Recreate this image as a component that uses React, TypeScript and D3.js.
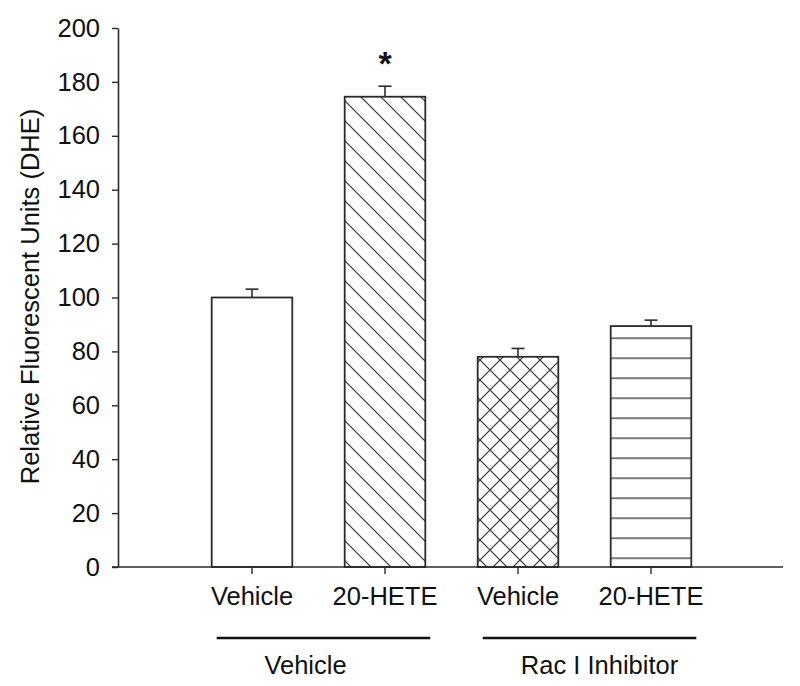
import React, { useEffect, useRef } from "react";
import * as d3 from "d3";

// values
const groups = ["veh-veh", "veh-hete", "rac-veh", "rac-hete"];
const xLabels = ["Vehicle", "20-HETE", "Vehicle", "20-HETE"];
const means = [100, 174.5, 78, 89.4];
const errors = [3.1, 3.9, 3.1, 2.2];
const fills = ["white", "url(#diag)", "url(#cross)", "url(#horiz)"];
const yTicks = [0, 20, 40, 60, 80, 100, 120, 140, 160, 180, 200];
const groupNames = ["Vehicle", "Rac I Inhibitor"];
const groupMembers = [
  ["veh-veh", "veh-hete"],
  ["rac-veh", "rac-hete"],
];
const significant = ["veh-hete"];

const FONT = "'Liberation Sans', Arial, Helvetica, sans-serif";
const INK = "#2b2b2b";
const FS = 25.5;

const App = () => {
  const ref = useRef<SVGSVGElement>(null);

  useEffect(() => {
    const width = 800;
    const height = 686;
    const svg = d3.select(ref.current).attr("width", width).attr("height", height);
    svg.selectAll("*").remove();

    const y = d3.scaleLinear().domain([0, 200]).range([567, 28]);
    const x = d3
      .scaleBand()
      .domain(groups)
      .range([185.5, 717.5])
      .paddingInner(0.394)
      .paddingOuter(0.197);

    // hatch patterns
    const defs = svg.append("defs");
    const mk = (id, px, py, d, sw) => {
      const p = defs
        .append("pattern")
        .attr("id", id)
        .attr("patternUnits", "userSpaceOnUse")
        .attr("x", px)
        .attr("y", py)
        .attr("width", 20)
        .attr("height", 20);
      p.append("rect").attr("width", 20).attr("height", 20).attr("fill", "white");
      p.append("path")
        .attr("d", d)
        .attr("stroke", "#333")
        .attr("stroke-width", sw)
        .attr("fill", "none");
    };
    const back = "M-5,-5L25,25M-5,15L5,25M15,-5L25,5";
    const fwd = "M-5,25L25,-5M-5,5L5,-5M15,25L25,15";
    mk("diag", 4, 0, back, 1.2);
    mk("cross", 0, 0, back + fwd, 1.2);
    mk("horiz", 0, 17.5, "M0,0.5L20,0.5", 1.6);

    // y axis
    const yAxis = svg
      .append("g")
      .attr("transform", "translate(118,0)")
      .call(d3.axisLeft(y).tickValues(yTicks).tickSize(6).tickSizeOuter(0).tickPadding(12));
    yAxis.select(".domain").attr("stroke", INK).attr("stroke-width", 1.6);
    yAxis.selectAll(".tick line").attr("stroke", INK).attr("stroke-width", 1.4);
    yAxis
      .selectAll(".tick text")
      .attr("font-family", FONT)
      .attr("font-size", FS)
      .attr("fill", "#111");

    // bars
    svg
      .selectAll("rect.bar")
      .data(groups)
      .enter()
      .append("rect")
      .attr("class", "bar")
      .attr("x", (d) => x(d))
      .attr("width", x.bandwidth())
      .attr("y", (d, i) => y(means[i]))
      .attr("height", (d, i) => y(0) - y(means[i]))
      .attr("fill", (d, i) => fills[i])
      .attr("stroke", INK)
      .attr("stroke-width", 1.8);

    // error bars (upper only)
    groups.forEach((g, i) => {
      const cx = x(g) + x.bandwidth() / 2;
      const top = y(means[i] + errors[i]);
      svg
        .append("line")
        .attr("x1", cx)
        .attr("x2", cx)
        .attr("y1", y(means[i]))
        .attr("y2", top)
        .attr("stroke", INK)
        .attr("stroke-width", 1.6);
      svg
        .append("line")
        .attr("x1", cx - 6.5)
        .attr("x2", cx + 6.5)
        .attr("y1", top)
        .attr("y2", top)
        .attr("stroke", INK)
        .attr("stroke-width", 1.6);
    });

    // significance star
    significant.forEach((g) => {
      const i = groups.indexOf(g);
      svg
        .append("text")
        .attr("x", x(g) + x.bandwidth() / 2)
        .attr("y", y(means[i] + errors[i]) - 11)
        .attr("text-anchor", "middle")
        .attr("font-family", FONT)
        .attr("font-size", 34)
        .attr("font-weight", "bold")
        .attr("fill", "#111")
        .text("*");
    });

    // x axis
    svg
      .append("line")
      .attr("x1", 112)
      .attr("x2", 783)
      .attr("y1", y(0))
      .attr("y2", y(0))
      .attr("stroke", INK)
      .attr("stroke-width", 1.6);
    const xAxis = svg
      .append("g")
      .attr("transform", `translate(0,${y(0)})`)
      .call(d3.axisBottom(x).tickSize(7).tickSizeOuter(0).tickPadding(13).tickFormat((d, i) => xLabels[i]));
    xAxis.select(".domain").remove();
    xAxis.selectAll(".tick line").attr("stroke", INK).attr("stroke-width", 1.4);
    xAxis
      .selectAll(".tick text")
      .attr("font-family", FONT)
      .attr("font-size", FS)
      .attr("fill", "#111");

    // group brackets
    groupNames.forEach((name, k) => {
      const mem = groupMembers[k];
      const a = x(mem[0]);
      const b = x(mem[mem.length - 1]) + x.bandwidth();
      svg
        .append("line")
        .attr("x1", a + 5)
        .attr("x2", b + 5)
        .attr("y1", 638)
        .attr("y2", 638)
        .attr("stroke", "#111")
        .attr("stroke-width", 2.6);
      svg
        .append("text")
        .attr("x", k === 0 ? (a + b) / 2 - 13 : (a + b) / 2 + 15)
        .attr("y", 674)
        .attr("text-anchor", "middle")
        .attr("font-family", FONT)
        .attr("font-size", FS)
        .attr("fill", "#111")
        .text(name);
    });

    // y title
    svg
      .append("text")
      .attr("transform", "translate(39,296.5) rotate(-90)")
      .attr("text-anchor", "middle")
      .attr("font-family", FONT)
      .attr("font-size", FS)
      .attr("fill", "#111")
      .text("Relative Fluorescent Units (DHE)");
  });

  return (
    <div>
      <svg ref={ref} style={{ position: "absolute", left: 0, top: 0 }}></svg>
    </div>
  );
};

export default App;
